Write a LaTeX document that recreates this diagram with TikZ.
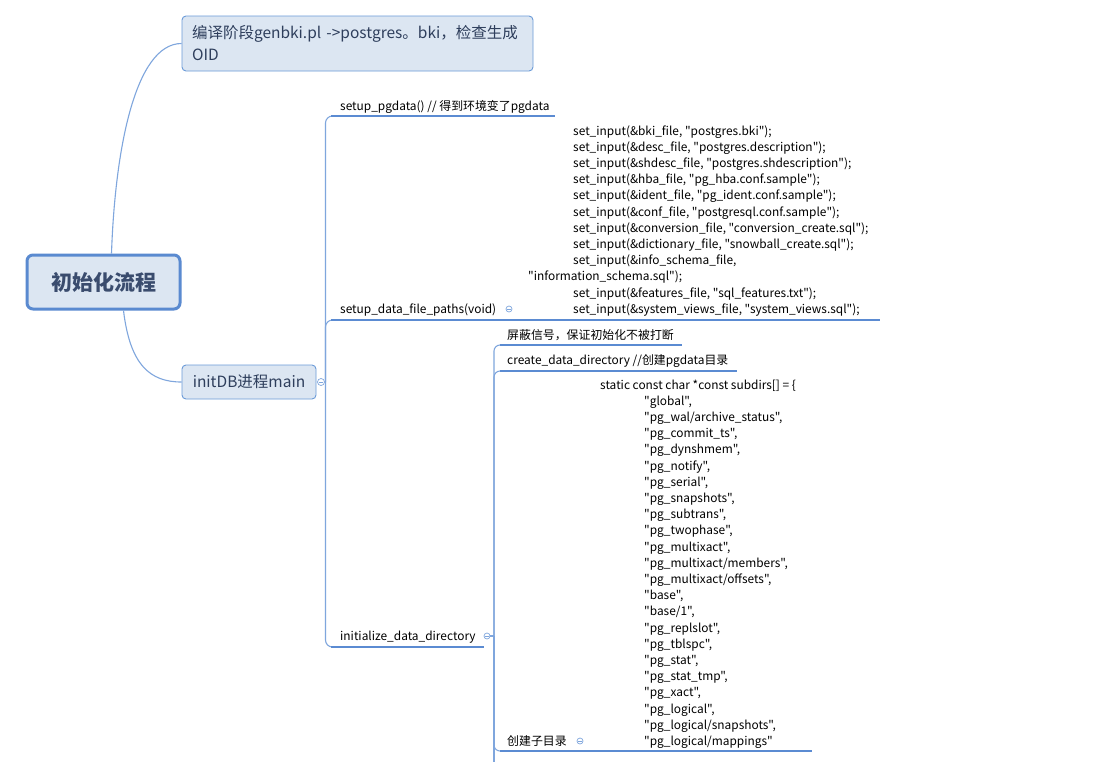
\documentclass[tikz,border=0pt]{standalone}
\usepackage{fontspec}
\newfontfamily\mainf{Noto Sans CJK SC}
\definecolor{fillc}{HTML}{DCE6F2}
\definecolor{borderc}{HTML}{6B9BD8}
\definecolor{rootb}{HTML}{5A8AD0}
\definecolor{linec}{HTML}{7FA6DD}
\definecolor{ulc}{HTML}{5B8BD2}
\definecolor{topictext}{HTML}{2E3E5C}
\definecolor{roottext}{HTML}{3A4C6E}
\definecolor{bodytext}{HTML}{000000}
\tikzset{
 conn/.style={draw=linec, line width=1.1},
 uline/.style={draw=ulc, line width=2},
 topic/.style={draw=borderc, fill=fillc, rounded corners=4, line width=0.9, text=topictext, font=\mainf\fontsize{15.5}{22}\selectfont, inner sep=0},
 lbl/.style={anchor=base west, inner sep=0, text=bodytext, font=\mainf\fontsize{11.9}{15}\selectfont},
 fold/.style={circle, draw=linec, fill=white, minimum size=7pt, inner sep=0, line width=0.7,
   path picture={\draw[linec, line width=0.6] ([xshift=-1.8pt]path picture bounding box.center) -- ([xshift=1.8pt]path picture bounding box.center);}},
}
\begin{document}
\begin{tikzpicture}[x=1pt,y=-1pt]
\useasboundingbox (0,0) rectangle (1110,761);
\clip (0,0) rectangle (1110,761);
\fill[white] (0,0) rectangle (1110,761);

% root and first-level topics
\node[draw=rootb, fill=fillc, line width=3, rounded corners=6, minimum width=153, minimum height=54, text=roottext, font=\mainf\fontsize{21}{24}\selectfont\bfseries] (root) at (103.5,282) {初始化流程};
\node[topic, minimum width=351, minimum height=55, text width=331, align=left] (n1) at (357.5,43.5) {编译阶段genbki.pl ->postgres。bki，检查生成\\OID};
\node[topic, minimum width=134, minimum height=34] (n2) at (249,382) {initDB进程main};

\draw[conn] ([xshift=8]root.north) .. controls (115,150) and (135,43.5) .. (n1.west);
\draw[conn] ([xshift=20]root.south) .. controls (130,365) and (150,382) .. (n2.west);

% fold of initDB
\node[fold] (fA) at (321,382) {};
\coordinate (sp) at (325.5,382);

% second level
\coordinate (u1s) at (331,116); \coordinate (u1e) at (555,116);
\coordinate (u2s) at (331,320); \coordinate (u2e) at (880,320);
\coordinate (u3s) at (331,647); \coordinate (u3e) at (483.5,647);
\draw[conn, rounded corners=7] (sp) |- (u1s);
\draw[conn, rounded corners=7] (sp) |- (u2s);
\draw[conn, rounded corners=7] (sp) |- (u3s);
\draw[uline] (u1s) -- (u1e);
\draw[uline] (u2s) -- (u2e);
\draw[uline] (u3s) -- (u3e);

\node[lbl] (l1) at (340,110) {setup\_pgdata() // 得到环境变了pgdata};
\node[lbl] (l2) at (340,313.2) {setup\_data\_file\_paths(void)};
\node[fold, minimum size=6pt] (fP) at (509,309) {};
\node[lbl] (l3) at (340,640) {initialize\_data\_directory};
\node[fold, minimum size=6pt] (fB) at (487,636) {};

% set_input block
\node[lbl] (s1) at (573,135.0) {set\_input(\&bki\_file, "postgres.bki");};
\node[lbl] (s2) at (573,151.2) {set\_input(\&desc\_file, "postgres.description");};
\node[lbl] (s3) at (573,167.4) {set\_input(\&shdesc\_file, "postgres.shdescription");};
\node[lbl] (s4) at (573,183.6) {set\_input(\&hba\_file, "pg\_hba.conf.sample");};
\node[lbl] (s5) at (573,199.8) {set\_input(\&ident\_file, "pg\_ident.conf.sample");};
\node[lbl] (s6) at (573,216.0) {set\_input(\&conf\_file, "postgresql.conf.sample");};
\node[lbl] (s7) at (573,232.2) {set\_input(\&conversion\_file, "conversion\_create.sql");};
\node[lbl] (s8) at (573,248.4) {set\_input(\&dictionary\_file, "snowball\_create.sql");};
\node[lbl] (s9) at (573,264.6) {set\_input(\&info\_schema\_file,};
\node[lbl] (s10) at (528,280.8) {"information\_schema.sql");};
\node[lbl] (s11) at (573,297.0) {set\_input(\&features\_file, "sql\_features.txt");};
\node[lbl] (s12) at (573,313.2) {set\_input(\&system\_views\_file, "system\_views.sql");};

% third level under initialize_data_directory
\coordinate (sp2) at (494,636);
\draw[conn] (fB.east) -- (sp2);
\coordinate (v1s) at (500,345); \coordinate (v1e) at (682,345);
\coordinate (v2s) at (500,371); \coordinate (v2e) at (737,371);
\coordinate (v3s) at (500,751); \coordinate (v3e) at (812,751);
\coordinate (v4) at (494,775);
\draw[conn, rounded corners=6] (sp2) |- (v1s);
\draw[conn, rounded corners=6] (sp2) |- (v2s);
\draw[conn, rounded corners=6] (sp2) |- (v3s);
\draw[conn] (sp2) -- (v4);
\draw[uline] (v1s) -- (v1e);
\draw[uline] (v2s) -- (v2e);
\draw[uline] (v3s) -- (v3e);

\node[lbl] (m1) at (507,339) {屏蔽信号，保证初始化不被打断};
\node[lbl] (m2) at (507,364.5) {create\_data\_directory //创建pgdata目录};
\node[lbl] (m3) at (507,745.2) {创建子目录};
\node[fold, minimum size=6pt] (fC) at (580,741) {};

% subdirs block
\node[lbl] (st) at (600,389) {static const char *const subdirs[] = \{};
\foreach \t [count=\k from 0] in {
 {"global",}, {"pg\_wal/archive\_status",}, {"pg\_commit\_ts",}, {"pg\_dynshmem",},
 {"pg\_notify",}, {"pg\_serial",}, {"pg\_snapshots",}, {"pg\_subtrans",},
 {"pg\_twophase",}, {"pg\_multixact",}, {"pg\_multixact/members",}, {"pg\_multixact/offsets",},
 {"base",}, {"base/1",}, {"pg\_replslot",}, {"pg\_tblspc",}, {"pg\_stat",},
 {"pg\_stat\_tmp",}, {"pg\_xact",}, {"pg\_logical",}, {"pg\_logical/snapshots",},
 {"pg\_logical/mappings"}}
 \node[lbl] (sd\k) at (644,{405.2+16.2*\k}) {\t};
\end{tikzpicture}
\end{document}
